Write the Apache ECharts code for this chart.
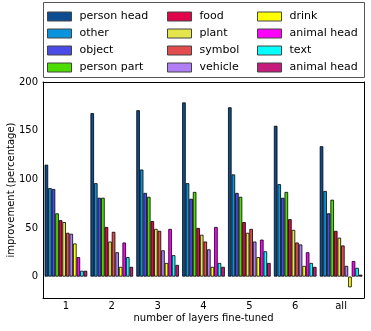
<!DOCTYPE html>
<html>
<head>
<meta charset="utf-8">
<script src="https://cdn.jsdelivr.net/npm/echarts@6/dist/echarts.min.js"></script>
<style>
  html, body { margin: 0; padding: 0; background: #fff; }
  #main { width: 371px; height: 331px; }
</style>
</head>
<body>
<div id="main"></div>
<script>
// x categories
const layers = ["1", "2", "3", "4", "5", "6", "all"];
// one array per series
const personHead = [115, 168, 171, 179, 174, 155, 134];
const other = [91, 96, 110, 96, 105, 95, 88];
const object = [90, 81, 86, 80, 86, 81, 65];
const personPart = [65, 81, 82, 87, 82, 87, 79];
const food = [58, 51, 57, 50, 56, 59, 47];
const plant = [56, 36, 49, 43, 45, 48, 40];
const symbol = [45, 46, 47, 36, 49, 35, 32];
const vehicle = [44, 25, 27, 28, 36, 33, 11];
const drink = [34, 10, 14, 10, 20, 11, -11];
const animalHead = [20, 35, 49, 51, 38, 25, 16];
const text = [6, 20, 22, 14, 26, 14, 9];
const animalHead2 = [6, 10, 12, 10, 14, 10, 2];

const seriesNames = ["person head", "other", "object", "person part",
  "food", "plant", "symbol", "vehicle",
  "drink", "animal head", "text", "animal head "];
const seriesData = [personHead, other, object, personPart, food, plant,
  symbol, vehicle, drink, animalHead, text, animalHead2];
const colors = ["#0b4d90", "#0a93dd", "#4a4ae6", "#4ddc00",
  "#e0054b", "#e5e54c", "#e24c4c", "#b07ff5",
  "#ffff00", "#ff00ff", "#00ffff", "#c51b7d"];

const font = "DejaVu Sans";
const myChart = echarts.init(document.getElementById("main"));

function legendAt(left, names) {
  return {
    orient: "vertical",
    left: left,
    top: 11,
    padding: 0,
    icon: "rect",
    itemWidth: 24,
    itemHeight: 9,
    itemGap: 6,
    selectedMode: false,
    data: names,
    itemStyle: { borderColor: "#444", borderWidth: 1 },
    textStyle: { fontFamily: font, fontSize: 11, color: "#000", padding: [0, 0, 0, 3] },
  };
}

const series = seriesNames.map((name, i) => ({
  name: name,
  type: "bar",
  data: seriesData[i],
  barGap: 0,
  barCategoryGap: "7%",
  itemStyle: { color: colors[i], borderColor: "#000", borderWidth: 0.8 },
  emphasis: { disabled: true },
  animation: false,
}));

const tickVals = [0, 50, 100, 150, 200];

const option = {
  backgroundColor: "#fff",
  textStyle: { fontFamily: font },
  legend: [
    legendAt(47, seriesNames.slice(0, 4)),
    legendAt(167, seriesNames.slice(4, 8)),
    legendAt(257, seriesNames.slice(8, 12)),
  ],
  graphic: [{
    type: "rect",
    shape: { x: 43.5, y: 2.5, width: 321, height: 75 },
    style: { fill: "none", stroke: "#555", lineWidth: 1 },
  }],
  grid: { left: 43, right: 7, top: 82, bottom: 33, containLabel: false, outerBoundsMode: "none" },
  xAxis: [
    {
      type: "category",
      data: layers,
      name: "number of layers fine-tuned",
      nameLocation: "middle",
      nameGap: 15,
      nameMoveOverlap: false,
      nameTextStyle: { fontFamily: font, fontSize: 10, color: "#000" },
      axisLine: { onZero: false, lineStyle: { color: "#000" } },
      axisTick: { inside: true, alignWithLabel: true, length: 4, lineStyle: { color: "#000" } },
      axisLabel: { fontFamily: font, fontSize: 10, color: "#000", margin: 3 },
      splitLine: { show: false },
    },
    {
      type: "category",
      data: layers,
      position: "top",
      axisLine: { onZero: false, lineStyle: { color: "#000" } },
      axisTick: { inside: true, alignWithLabel: true, length: 4, lineStyle: { color: "#000" } },
      axisLabel: { show: false },
    },
  ],
  yAxis: [
    {
      type: "value",
      min: -22,
      max: 200,
      name: "improvement (percentage)",
      nameLocation: "middle",
      nameGap: 27,
      nameMoveOverlap: false,
      nameTextStyle: { fontFamily: font, fontSize: 10, color: "#000" },
      axisLine: { show: true, onZero: false, lineStyle: { color: "#000" } },
      axisTick: { inside: true, length: 4, customValues: tickVals, lineStyle: { color: "#000" } },
      axisLabel: { fontFamily: font, fontSize: 10, color: "#000", margin: 5, customValues: tickVals },
      splitLine: { show: false },
    },
    {
      type: "value",
      min: -22,
      max: 200,
      position: "right",
      axisLine: { show: true, onZero: false, lineStyle: { color: "#000" } },
      axisTick: { inside: true, length: 4, customValues: tickVals, lineStyle: { color: "#000" } },
      axisLabel: { show: false },
      splitLine: { show: false },
    },
  ],
  series: series,
};

option && myChart.setOption(option);
</script>
</body>
</html>
